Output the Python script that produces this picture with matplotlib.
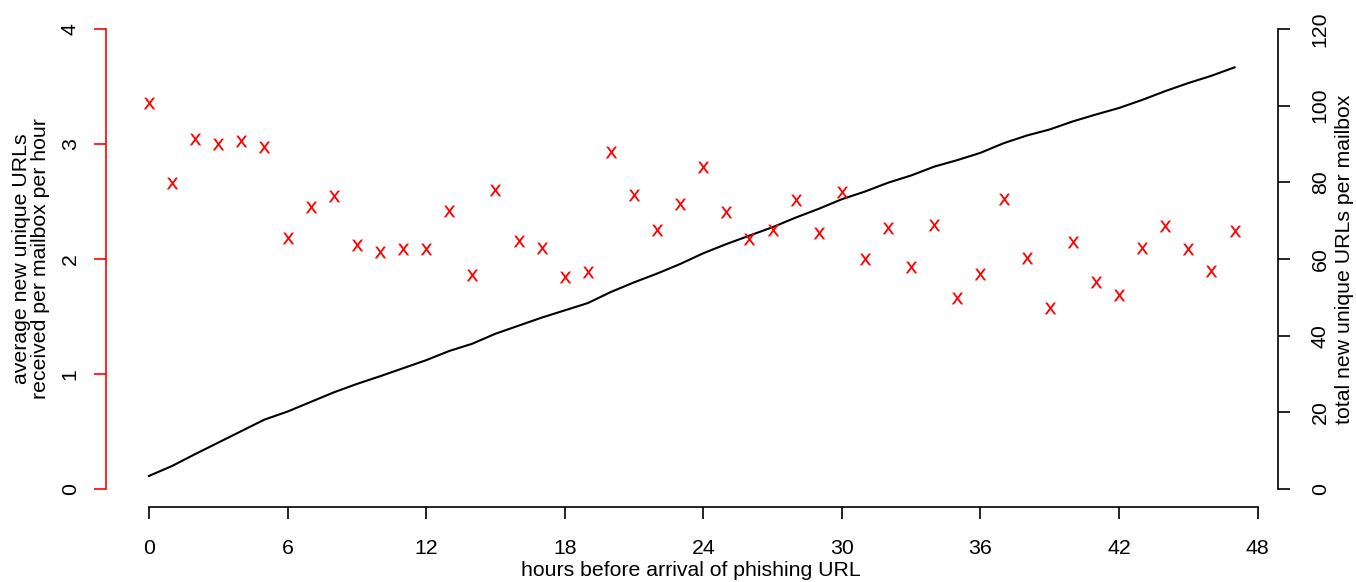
import matplotlib
matplotlib.use("Agg")
import matplotlib.pyplot as plt

plt.rcParams['font.family'] = ['Liberation Sans', 'DejaVu Sans']

hours = list(range(48))
avg_new_urls = [3.36, 2.66, 3.04, 3.00, 3.03, 2.97, 2.18, 2.45, 2.55, 2.12,
                2.06, 2.09, 2.09, 2.42, 1.86, 2.60, 2.16, 2.10, 1.84, 1.89,
                2.93, 2.56, 2.25, 2.48, 2.80, 2.41, 2.17, 2.25, 2.51, 2.23,
                2.58, 2.00, 2.27, 1.93, 2.30, 1.66, 1.87, 2.52, 2.01, 1.57,
                2.15, 1.80, 1.69, 2.10, 2.29, 2.09, 1.90, 2.24]
total_new_urls = [3.4, 6.0, 9.1, 12.1, 15.1, 18.1, 20.2, 22.7, 25.2, 27.4,
                  29.4, 31.5, 33.6, 36.0, 37.9, 40.5, 42.6, 44.7, 46.6, 48.5,
                  51.4, 53.9, 56.2, 58.7, 61.5, 63.9, 66.1, 68.3, 70.8, 73.1,
                  75.6, 77.6, 79.9, 81.8, 84.1, 85.8, 87.7, 90.2, 92.2, 93.8,
                  95.9, 97.7, 99.4, 101.5, 103.8, 105.9, 107.8, 110.0]
x_ticks = [0, 6, 12, 18, 24, 30, 36, 42, 48]
left_ticks = [0, 1, 2, 3, 4]
right_ticks = [0, 20, 40, 60, 80, 100, 120]

W, H = 1356, 582
fig = plt.figure(figsize=(W / 100, H / 100), dpi=100)
left_px, right_px, top_px, bot_px = 105.5, 1278, 10.6, 507.4
ax = fig.add_axes([left_px / W, 1 - bot_px / H, (right_px - left_px) / W, (bot_px - top_px) / H])
ax.patch.set_alpha(0)
ax2 = ax.twinx()
ax.set_zorder(ax2.get_zorder() + 1)

ax.set_xlim(-1.88, 48.88)
ax.set_ylim(-0.16, 4.16)
ax2.set_ylim(-4.8, 124.8)

fs = 15.3
ax2.plot(hours, total_new_urls, color='black', lw=1.5)
ax.plot(hours, avg_new_urls, linestyle='none', marker=r'$\mathsf{x}$', color='red',
        markersize=8.5, markeredgewidth=0)

for a in (ax, ax2):
    for s in ('top', 'left', 'right', 'bottom'):
        a.spines[s].set_visible(False)

ax.spines['left'].set_visible(True)
ax.spines['left'].set_bounds(0, 4)
ax.spines['left'].set_color('red')
ax.spines['left'].set_linewidth(1.2)
ax.spines['bottom'].set_visible(True)
ax.spines['bottom'].set_bounds(0, 48)
ax.spines['bottom'].set_linewidth(1.2)
ax.spines['bottom'].set_position(('data', -0.16))
ax2.spines['right'].set_visible(True)
ax2.spines['right'].set_bounds(0, 120)
ax2.spines['right'].set_linewidth(1.2)

ax.set_xticks(x_ticks)
ax.set_xticklabels([str(t) for t in x_ticks], fontsize=fs)
ax.set_yticks(left_ticks)
ax.set_yticklabels([str(t) for t in left_ticks], fontsize=fs, rotation=90, va='center')
ax2.set_yticks(right_ticks)
ax2.set_yticklabels([str(t) for t in right_ticks], fontsize=fs, rotation=90, va='center')

ax.tick_params(axis='x', length=8.6, width=1.2, pad=14, colors='black')
ax.tick_params(axis='y', length=8.6, width=1.2, pad=10, color='red', labelcolor='black')
ax2.tick_params(axis='y', length=8.6, width=1.2, pad=15)

fig.text(691 / W, 1 - 571 / H, 'hours before arrival of phishing URL',
         ha='center', va='center', fontsize=fs)
fig.text(31 / W, 1 - 259 / H, 'average new unique URLs\nreceived per mailbox per hour',
         ha='center', va='center', rotation=90, fontsize=fs, linespacing=0.95)
fig.text(1344 / W, 1 - 259 / H, 'total new unique URLs per mailbox',
         ha='center', va='center', rotation=90, fontsize=fs)

fig.savefig('out.png', dpi=100)
